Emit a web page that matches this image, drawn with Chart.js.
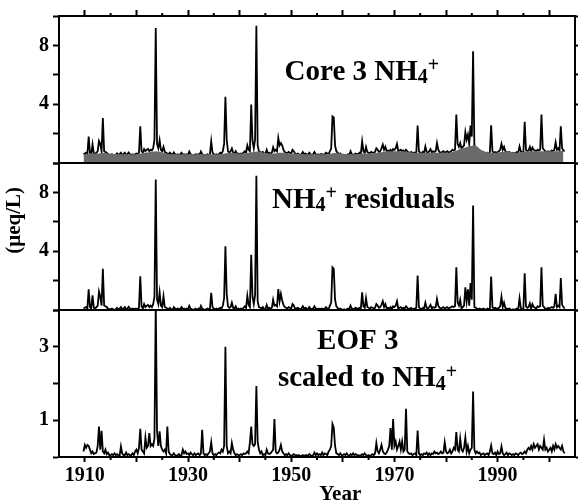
<!DOCTYPE html>
<html><head><meta charset="utf-8">
<script src="https://cdn.jsdelivr.net/npm/chart.js@4.4.1/dist/chart.umd.min.js"></script>
<style>html,body{margin:0;padding:0;background:#fff;overflow:hidden}</style>
</head><body>
<canvas id="c" width="578" height="503"></canvas>
<script>
// quarterly samples, first sample at 1909.75, last at 2003.0
const startYear = 1909.75;
const stepYear = 0.25;

const core3 = [
/*1909*/ 0.6,
/*1910*/ 0.65,0.7,0.6,1.8,
/*1911*/ 0.7,0.6,1.27,0.65,
/*1912*/ 0.6,0.7,0.8,1.5,
/*1913*/ 1.3,0.8,3.06,0.8,
/*1914*/ 0.75,0.7,0.6,0.55,
/*1915*/ 0.55,0.6,0.55,0.5,
/*1916*/ 0.55,0.65,0.55,0.6,
/*1917*/ 0.7,0.55,0.6,0.7,
/*1918*/ 0.55,0.6,0.72,0.6,
/*1919*/ 0.55,0.6,0.55,0.6,
/*1920*/ 0.65,0.6,0.7,2.5,
/*1921*/ 0.8,0.7,0.95,0.8,
/*1922*/ 0.9,0.95,0.8,0.9,
/*1923*/ 0.85,1.0,1.6,9.18,
/*1924*/ 1.3,1.0,1.55,0.9,
/*1925*/ 0.8,1.1,0.75,0.7,
/*1926*/ 0.65,0.6,0.7,0.6,
/*1927*/ 0.55,0.72,0.6,0.55,
/*1928*/ 0.6,0.55,0.6,0.7,
/*1929*/ 0.55,0.6,0.55,0.6,
/*1930*/ 0.55,0.78,0.6,0.55,
/*1931*/ 0.5,0.55,0.6,0.5,
/*1932*/ 0.6,0.55,0.78,0.6,
/*1933*/ 0.55,0.5,0.55,0.6,
/*1934*/ 0.55,0.6,1.47,0.7,
/*1935*/ 0.6,0.55,0.6,0.55,
/*1936*/ 0.6,0.7,0.65,0.8,
/*1937*/ 1.3,4.5,1.6,0.8,
/*1938*/ 0.7,0.8,1.0,0.7,
/*1939*/ 0.65,0.8,0.6,0.65,
/*1940*/ 0.6,0.65,0.6,0.7,
/*1941*/ 0.8,0.7,1.2,0.9,
/*1942*/ 0.8,3.97,1.5,1.0,
/*1943*/ 1.6,9.34,1.2,0.8,
/*1944*/ 0.75,0.7,0.75,0.65,
/*1945*/ 0.6,0.9,0.65,0.7,
/*1946*/ 0.65,0.7,1.07,0.8,
/*1947*/ 0.9,0.8,1.7,1.2,
/*1948*/ 1.36,1.2,0.9,0.75,
/*1949*/ 0.7,0.65,0.75,0.7,
/*1950*/ 0.65,0.9,0.8,0.65,
/*1951*/ 0.6,0.65,0.6,0.55,
/*1952*/ 0.6,0.75,0.6,0.65,
/*1953*/ 0.6,0.55,0.7,0.6,
/*1954*/ 0.55,0.6,0.75,0.6,
/*1955*/ 0.55,0.6,0.55,0.6,
/*1956*/ 0.6,0.55,0.6,0.7,
/*1957*/ 0.65,0.6,0.8,1.0,
/*1958*/ 3.17,3.1,1.2,0.8,
/*1959*/ 0.7,0.6,0.65,0.55,
/*1960*/ 0.5,0.55,0.5,0.55,
/*1961*/ 0.6,0.55,0.8,0.6,
/*1962*/ 0.55,0.6,0.65,0.6,
/*1963*/ 0.6,0.7,0.65,1.47,
/*1964*/ 0.8,0.7,1.1,0.75,
/*1965*/ 0.7,0.65,0.75,0.7,
/*1966*/ 0.7,0.75,1.0,0.9,
/*1967*/ 0.75,0.8,1.0,1.25,
/*1968*/ 0.9,1.1,0.8,0.85,
/*1969*/ 0.8,0.9,0.75,0.95,
/*1970*/ 0.9,1.0,1.3,0.8,
/*1971*/ 0.85,0.9,0.8,0.85,
/*1972*/ 0.75,0.9,0.8,0.7,
/*1973*/ 0.7,0.75,0.65,0.7,
/*1974*/ 0.7,0.75,2.54,0.8,
/*1975*/ 0.7,0.65,0.75,0.7,
/*1976*/ 1.13,0.75,0.7,0.8,
/*1977*/ 0.95,0.7,0.8,0.75,
/*1978*/ 0.8,1.36,0.9,0.75,
/*1979*/ 0.7,0.75,0.8,0.7,
/*1980*/ 0.75,0.8,0.7,0.75,
/*1981*/ 0.8,0.9,0.85,0.9,
/*1982*/ 3.29,1.3,1.1,1.36,
/*1983*/ 1.0,1.1,1.2,2.1,
/*1984*/ 1.6,1.93,1.3,2.54,
/*1985*/ 1.8,7.6,1.2,1.0,
/*1986*/ 0.9,0.8,0.75,0.7,
/*1987*/ 0.65,0.7,0.65,0.6,
/*1988*/ 0.7,0.65,0.7,2.56,
/*1989*/ 0.8,0.7,0.75,0.7,
/*1990*/ 0.75,0.8,0.9,1.3,
/*1991*/ 0.9,1.1,0.8,0.75,
/*1992*/ 0.7,0.75,0.7,0.65,
/*1993*/ 0.7,0.65,0.7,0.75,
/*1994*/ 0.7,1.13,0.8,0.7,
/*1995*/ 0.75,2.8,0.9,0.8,
/*1996*/ 0.85,1.1,0.8,1.05,
/*1997*/ 0.9,0.85,0.8,0.9,
/*1998*/ 0.85,0.9,3.3,1.0,
/*1999*/ 0.9,0.8,0.75,0.8,
/*2000*/ 0.75,0.8,0.85,0.8,
/*2001*/ 0.9,1.4,0.9,1.0,
/*2002*/ 0.85,2.5,1.0,0.85,
/*2003*/ 0.8
];

// smooth background (grey area in the top panel), yearly, first at 1909.75
const bgStart = 1909.75;
const bgStep = 1;
const background = [
0.6,
0.65,0.65,0.65,0.7,0.65,0.62,0.6,0.6,0.6,0.6,
0.65,0.7,0.75,0.8,0.75,0.65,0.6,0.6,0.6,0.6,
0.6,0.6,0.6,0.6,0.6,0.6,0.62,0.7,0.7,0.65,
0.65,0.7,0.75,0.8,0.7,0.65,0.65,0.7,0.7,0.65,
0.65,0.6,0.6,0.6,0.6,0.6,0.6,0.65,0.7,0.65,
0.6,0.6,0.6,0.65,0.65,0.65,0.7,0.75,0.8,0.8,
0.8,0.8,0.75,0.7,0.7,0.7,0.7,0.7,0.7,0.7,
0.7,0.8,0.95,1.05,1.15,1.2,0.9,0.75,0.7,0.7,
0.75,0.8,0.75,0.7,0.75,0.8,0.8,0.8,0.8,0.8,
0.8,0.8,0.85
];

const residuals = [
/*1909*/ 0.1,
/*1910*/ 0.15,0.2,0.1,1.4,
/*1911*/ 0.2,0.1,1.0,0.15,
/*1912*/ 0.1,0.2,0.3,1.25,
/*1913*/ 0.9,0.3,2.8,0.3,
/*1914*/ 0.25,0.2,0.1,0.05,
/*1915*/ 0.05,0.1,0.05,0.0,
/*1916*/ 0.05,0.15,0.05,0.1,
/*1917*/ 0.2,0.05,0.1,0.2,
/*1918*/ 0.05,0.1,0.22,0.1,
/*1919*/ 0.05,0.1,0.05,0.1,
/*1920*/ 0.1,0.05,0.15,2.3,
/*1921*/ 0.25,0.1,0.4,0.2,
/*1922*/ 0.3,0.35,0.2,0.3,
/*1923*/ 0.2,0.4,0.9,8.87,
/*1924*/ 0.7,0.4,1.2,0.3,
/*1925*/ 0.2,0.93,0.2,0.15,
/*1926*/ 0.1,0.05,0.15,0.05,
/*1927*/ 0.0,0.2,0.1,0.05,
/*1928*/ 0.1,0.05,0.1,0.2,
/*1929*/ 0.05,0.1,0.05,0.1,
/*1930*/ 0.05,0.28,0.1,0.05,
/*1931*/ 0.0,0.05,0.1,0.0,
/*1932*/ 0.1,0.05,0.28,0.1,
/*1933*/ 0.05,0.0,0.05,0.1,
/*1934*/ 0.05,0.1,1.16,0.2,
/*1935*/ 0.1,0.05,0.1,0.05,
/*1936*/ 0.1,0.15,0.1,0.3,
/*1937*/ 0.8,4.33,1.1,0.25,
/*1938*/ 0.15,0.2,0.5,0.15,
/*1939*/ 0.1,0.25,0.05,0.1,
/*1940*/ 0.05,0.1,0.05,0.15,
/*1941*/ 0.25,0.15,0.97,0.35,
/*1942*/ 0.2,3.76,0.9,0.4,
/*1943*/ 1.0,9.14,0.6,0.2,
/*1944*/ 0.15,0.1,0.2,0.05,
/*1945*/ 0.05,0.35,0.1,0.15,
/*1946*/ 0.1,0.15,0.7,0.3,
/*1947*/ 0.35,0.25,1.43,0.6,
/*1948*/ 1.1,0.65,0.35,0.2,
/*1949*/ 0.15,0.1,0.2,0.15,
/*1950*/ 0.1,0.4,0.3,0.1,
/*1951*/ 0.1,0.15,0.1,0.05,
/*1952*/ 0.1,0.25,0.1,0.15,
/*1953*/ 0.1,0.05,0.2,0.1,
/*1954*/ 0.05,0.1,0.25,0.1,
/*1955*/ 0.05,0.1,0.05,0.1,
/*1956*/ 0.1,0.05,0.1,0.2,
/*1957*/ 0.1,0.05,0.3,0.5,
/*1958*/ 2.9,2.8,0.7,0.25,
/*1959*/ 0.15,0.05,0.1,0.05,
/*1960*/ 0.0,0.05,0.0,0.05,
/*1961*/ 0.1,0.05,0.3,0.1,
/*1962*/ 0.05,0.1,0.15,0.1,
/*1963*/ 0.1,0.15,0.1,1.2,
/*1964*/ 0.25,0.15,0.8,0.2,
/*1965*/ 0.15,0.1,0.2,0.15,
/*1966*/ 0.1,0.15,0.4,0.3,
/*1967*/ 0.15,0.2,0.35,0.6,
/*1968*/ 0.2,0.4,0.1,0.15,
/*1969*/ 0.1,0.2,0.05,0.25,
/*1970*/ 0.2,0.3,0.6,0.1,
/*1971*/ 0.15,0.2,0.1,0.15,
/*1972*/ 0.1,0.25,0.15,0.05,
/*1973*/ 0.1,0.15,0.05,0.1,
/*1974*/ 0.1,0.15,2.34,0.2,
/*1975*/ 0.1,0.05,0.15,0.1,
/*1976*/ 0.5,0.15,0.1,0.2,
/*1977*/ 0.35,0.1,0.2,0.15,
/*1978*/ 0.2,0.75,0.3,0.15,
/*1979*/ 0.1,0.15,0.2,0.1,
/*1980*/ 0.15,0.2,0.1,0.15,
/*1981*/ 0.2,0.25,0.2,0.25,
/*1982*/ 2.9,0.5,0.3,0.7,
/*1983*/ 0.1,0.2,0.3,1.54,
/*1984*/ 0.6,1.4,0.3,1.84,
/*1985*/ 0.7,7.1,0.2,0.15,
/*1986*/ 0.1,0.05,0.1,0.05,
/*1987*/ 0.05,0.1,0.05,0.0,
/*1988*/ 0.1,0.05,0.1,2.27,
/*1989*/ 0.2,0.1,0.15,0.1,
/*1990*/ 0.1,0.15,0.25,0.9,
/*1991*/ 0.2,0.5,0.15,0.1,
/*1992*/ 0.05,0.1,0.05,0.0,
/*1993*/ 0.05,0.0,0.05,0.1,
/*1994*/ 0.05,0.8,0.15,0.05,
/*1995*/ 0.1,2.5,0.25,0.15,
/*1996*/ 0.2,0.45,0.1,0.4,
/*1997*/ 0.2,0.15,0.1,0.25,
/*1998*/ 0.2,0.25,2.9,0.3,
/*1999*/ 0.2,0.1,0.05,0.15,
/*2000*/ 0.1,0.15,0.2,0.15,
/*2001*/ 0.25,1.1,0.2,0.3,
/*2002*/ 0.2,2.18,0.35,0.2,
/*2003*/ 0.1
];

const eof3 = [
/*1909*/ 0.15,
/*1910*/ 0.33,0.25,0.33,0.3,
/*1911*/ 0.2,0.1,0.15,0.08,
/*1912*/ 0.1,0.12,0.3,0.83,
/*1913*/ 0.2,0.71,0.15,0.1,
/*1914*/ 0.2,0.08,0.12,0.05,
/*1915*/ 0.05,0.08,0.05,0.1,
/*1916*/ 0.05,0.08,0.05,0.03,
/*1917*/ 0.29,0.1,0.05,0.05,
/*1918*/ 0.12,0.05,0.08,0.05,
/*1919*/ 0.05,0.1,0.05,0.15,
/*1920*/ 0.2,0.1,0.25,0.77,
/*1921*/ 0.2,0.15,0.1,0.53,
/*1922*/ 0.25,0.3,0.65,0.3,
/*1923*/ 0.35,0.3,0.5,4.2,
/*1924*/ 0.7,0.3,0.7,0.3,
/*1925*/ 0.2,0.15,0.2,0.1,
/*1926*/ 0.83,0.15,0.08,0.05,
/*1927*/ 0.05,0.1,0.05,0.03,
/*1928*/ 0.05,0.08,0.03,0.05,
/*1929*/ 0.2,0.1,0.15,0.08,
/*1930*/ 0.1,0.05,0.12,0.08,
/*1931*/ 0.05,0.1,0.05,0.08,
/*1932*/ 0.1,0.05,0.1,0.74,
/*1933*/ 0.1,0.05,0.08,0.05,
/*1934*/ 0.1,0.15,0.4,0.1,
/*1935*/ 0.05,0.08,0.05,0.1,
/*1936*/ 0.12,0.1,0.2,0.15,
/*1937*/ 0.3,3.0,0.3,0.1,
/*1938*/ 0.15,0.1,0.38,0.2,
/*1939*/ 0.1,0.05,0.08,0.05,
/*1940*/ 0.05,0.08,0.05,0.1,
/*1941*/ 0.08,0.1,0.15,0.1,
/*1942*/ 0.4,0.83,0.35,0.3,
/*1943*/ 0.35,1.93,0.42,0.2,
/*1944*/ 0.1,0.15,0.05,0.08,
/*1945*/ 0.05,0.2,0.1,0.08,
/*1946*/ 0.1,0.15,0.2,1.03,
/*1947*/ 0.15,0.1,0.12,0.2,
/*1948*/ 0.33,0.15,0.1,0.05,
/*1949*/ 0.08,0.05,0.1,0.05,
/*1950*/ 0.03,0.05,0.08,0.05,
/*1951*/ 0.05,0.03,0.05,0.02,
/*1952*/ 0.03,0.05,0.02,0.05,
/*1953*/ 0.05,0.03,0.08,0.05,
/*1954*/ 0.02,0.05,0.12,0.05,
/*1955*/ 0.1,0.05,0.08,0.05,
/*1956*/ 0.12,0.05,0.1,0.08,
/*1957*/ 0.05,0.15,0.2,0.3,
/*1958*/ 0.9,0.8,0.3,0.1,
/*1959*/ 0.08,0.05,0.1,0.05,
/*1960*/ 0.05,0.08,0.05,0.1,
/*1961*/ 0.05,0.03,0.08,0.05,
/*1962*/ 0.1,0.05,0.08,0.05,
/*1963*/ 0.05,0.03,0.05,0.08,
/*1964*/ 0.05,0.1,0.05,0.03,
/*1965*/ 0.05,0.02,0.05,0.08,
/*1966*/ 0.05,0.1,0.38,0.15,
/*1967*/ 0.1,0.2,0.33,0.15,
/*1968*/ 0.1,0.08,0.12,0.2,
/*1969*/ 0.3,0.79,0.2,1.03,
/*1970*/ 0.3,0.42,0.2,0.3,
/*1971*/ 0.42,0.2,0.42,0.15,
/*1972*/ 0.2,1.31,0.15,0.1,
/*1973*/ 0.08,0.1,0.05,0.08,
/*1974*/ 0.1,0.05,0.72,0.1,
/*1975*/ 0.05,0.08,0.05,0.1,
/*1976*/ 0.08,0.12,0.05,0.1,
/*1977*/ 0.05,0.1,0.08,0.15,
/*1978*/ 0.1,0.12,0.08,0.1,
/*1979*/ 0.15,0.1,0.12,0.4,
/*1980*/ 0.15,0.1,0.12,0.2,
/*1981*/ 0.1,0.15,0.25,0.2,
/*1982*/ 0.68,0.2,0.15,0.5,
/*1983*/ 0.2,0.15,0.25,0.53,
/*1984*/ 0.15,0.3,0.1,0.2,
/*1985*/ 0.25,1.78,0.2,0.1,
/*1986*/ 0.15,0.1,0.12,0.05,
/*1987*/ 0.08,0.1,0.05,0.08,
/*1988*/ 0.1,0.05,0.15,0.31,
/*1989*/ 0.1,0.08,0.12,0.05,
/*1990*/ 0.15,0.08,0.1,0.29,
/*1991*/ 0.1,0.05,0.08,0.12,
/*1992*/ 0.05,0.1,0.08,0.05,
/*1993*/ 0.08,0.05,0.1,0.08,
/*1994*/ 0.05,0.1,0.12,0.08,
/*1995*/ 0.1,0.15,0.1,0.2,
/*1996*/ 0.25,0.2,0.3,0.2,
/*1997*/ 0.35,0.25,0.3,0.35,
/*1998*/ 0.2,0.3,0.25,0.2,
/*1999*/ 0.47,0.2,0.25,0.15,
/*2000*/ 0.2,0.25,0.15,0.3,
/*2001*/ 0.2,0.35,0.25,0.3,
/*2002*/ 0.25,0.2,0.3,0.15,
/*2003*/ 0.1
];

const xMajorTicks = [1910,1920,1930,1940,1950,1960,1970,1980,1990,2000];
const xTickLabels = [1910,1930,1950,1970,1990];
const xMinorTicks = [1915,1925,1935,1945,1955,1965,1975,1985,1995];
const concTicks = [0,2,4,6,8,10];
const concTickLabels = [4,8];
const eofTicks = [0,1,2,3,4];
const eofTickLabels = [1,3];

const panelTexts = [
  {axis:'yC', x:1963.7, y:5.68, parts:[['Core 3 NH',0],['4',1],['+',2]]},
  {axis:'yR', x:1964.0, y:6.94, parts:[['NH',0],['4',1],['+',2],[' residuals',0]]},
  {axis:'yE', x:1962.9, y:2.93, parts:[['EOF 3',0]]},
  {axis:'yE', x:1964.8, y:1.92, parts:[['scaled to NH',0],['4',1],['+',2]]}
];
const xTitle = 'Year';
const yTitle = '(\u03BCeq/L)';

const FONT = '"Liberation Serif", "Times New Roman", serif';

function series(vals, x0, dx){ return vals.map((v,i)=>({x: x0 + i*dx, y: v})); }

function leftAxis(max, ticks, labels, weight){
  return {
    type:'linear', position:'left', stack:'L', stackWeight:1, weight, min:0, max,
    afterBuildTicks: s => { s.ticks = ticks.map(v=>({value:v})); },
    afterFit: s => { s.width = 59; },
    ticks:{ autoSkip:false, color:'#000', padding:4, font:{family:FONT, size:20, weight:'bold'},
            callback: v => labels.includes(v) ? String(v) : '' },
    grid:{ drawOnChartArea:false, drawTicks:true, tickLength:6, tickWidth:2, tickColor:'#000' },
    border:{ display:true, color:'#000', width:2 }
  };
}
function rightAxis(max, ticks, weight){
  return {
    type:'linear', position:'right', stack:'R', stackWeight:1, weight, min:0, max,
    afterBuildTicks: s => { s.ticks = ticks.map(v=>({value:v})); },
    afterFit: s => { s.width = 3; },
    ticks:{ display:false },
    grid:{ drawOnChartArea:false, drawTicks:true, tickLength:5, tickWidth:2, tickColor:'#000' },
    border:{ display:true, color:'#000', width:2 }
  };
}

const decor = {
  id:'decor',
  afterDraw(chart){
    const ctx = chart.ctx, ca = chart.chartArea, sc = chart.scales;
    ctx.save();
    ctx.strokeStyle = '#000'; ctx.lineWidth = 2;
    [sc.yC.bottom, sc.yR.bottom].forEach(y => {
      ctx.beginPath(); ctx.moveTo(ca.left, y); ctx.lineTo(ca.right, y); ctx.stroke();
    });
    xMinorTicks.forEach(v => {
      const px = sc.x.getPixelForValue(v);
      ctx.beginPath();
      ctx.moveTo(px, ca.top); ctx.lineTo(px, ca.top - 3);
      ctx.moveTo(px, ca.bottom); ctx.lineTo(px, ca.bottom + 3);
      ctx.stroke();
    });
    ctx.fillStyle = '#000';
    ctx.textBaseline = 'alphabetic';
    const size = 29;
    panelTexts.forEach(t => {
      const cx = sc.x.getPixelForValue(t.x), by = sc[t.axis].getPixelForValue(t.y);
      const segs = t.parts.map(([txt, kind]) => {
        const s = kind === 0 ? size : Math.round(size*0.7);
        ctx.font = 'bold ' + s + 'px ' + FONT;
        return {txt, kind, s, w: ctx.measureText(txt).width};
      });
      let x = cx - segs.reduce((a,b)=>a+b.w,0)/2;
      segs.forEach(g => {
        ctx.font = 'bold ' + g.s + 'px ' + FONT;
        const dy = g.kind === 1 ? size*0.12 : (g.kind === 2 ? -size*0.3 : 0);
        ctx.fillText(g.txt, x, by + dy);
        x += g.w;
      });
    });
    // axis titles
    ctx.font = 'bold 21px ' + FONT;
    ctx.textAlign = 'center'; ctx.textBaseline = 'middle';
    ctx.fillText(xTitle, sc.x.getPixelForValue(1959.5), ca.bottom + 38);
    ctx.save();
    ctx.translate(15, sc.yR.getPixelForValue(6.1));
    ctx.rotate(-Math.PI/2);
    ctx.fillText(yTitle, 0, 0);
    ctx.restore();
    ctx.restore();
  }
};

new Chart(document.getElementById('c'), {
  type:'line',
  data:{ datasets:[
    {label:'Core 3 NH4+', data: series(core3, startYear, stepYear), xAxisID:'x', yAxisID:'yC',
     borderColor:'#000', borderWidth:1.8, pointRadius:0, fill:false, order:2},
    {label:'Background', data: series(background, bgStart, bgStep), xAxisID:'x', yAxisID:'yC',
     borderColor:'#6a6a6a', borderWidth:0, backgroundColor:'#6a6a6a', pointRadius:0, fill:'origin', order:1},
    {label:'NH4+ residuals', data: series(residuals, startYear, stepYear), xAxisID:'x', yAxisID:'yR',
     borderColor:'#000', borderWidth:1.8, pointRadius:0, fill:false, order:2},
    {label:'EOF 3 scaled to NH4+', data: series(eof3, startYear, stepYear), xAxisID:'x', yAxisID:'yE',
     borderColor:'#000', borderWidth:1.8, pointRadius:0, fill:false, order:2}
  ]},
  options:{
    responsive:false, animation:false, devicePixelRatio:1,
    layout:{ padding:0 },
    plugins:{ legend:{display:false}, tooltip:{enabled:false}, title:{display:false} },
    elements:{ line:{ tension:0 } },
    scales:{
      x:{ type:'linear', position:'bottom', min:1905, max:2005,
          afterBuildTicks: s => { s.ticks = xMajorTicks.map(v=>({value:v})); },
          afterFit: s => { s.height = 46; },
          ticks:{ autoSkip:false, maxRotation:0, color:'#000', padding:2, font:{family:FONT, size:20, weight:'bold'},
                  callback: v => xTickLabels.includes(v) ? String(v) : '' },
          grid:{ drawOnChartArea:false, drawTicks:true, tickLength:5, tickWidth:2, tickColor:'#000' },
          border:{ display:true, color:'#000', width:2 } },
      xTop:{ type:'linear', position:'top', min:1905, max:2005,
          afterBuildTicks: s => { s.ticks = xMajorTicks.map(v=>({value:v})); },
          afterFit: s => { s.height = 16; },
          ticks:{ display:false },
          grid:{ drawOnChartArea:false, drawTicks:true, tickLength:6, tickWidth:2, tickColor:'#000' },
          border:{ display:true, color:'#000', width:2 } },
      yE: leftAxis(4, eofTicks, eofTickLabels, 1),
      yR: leftAxis(10, concTicks, concTickLabels, 2),
      yC: leftAxis(10, concTicks, concTickLabels, 3),
      rC: rightAxis(10, concTicks, 1),
      rR: rightAxis(10, concTicks, 2),
      rE: rightAxis(4, eofTicks, 3)
    }
  },
  plugins:[decor]
});
</script>
</body></html>
